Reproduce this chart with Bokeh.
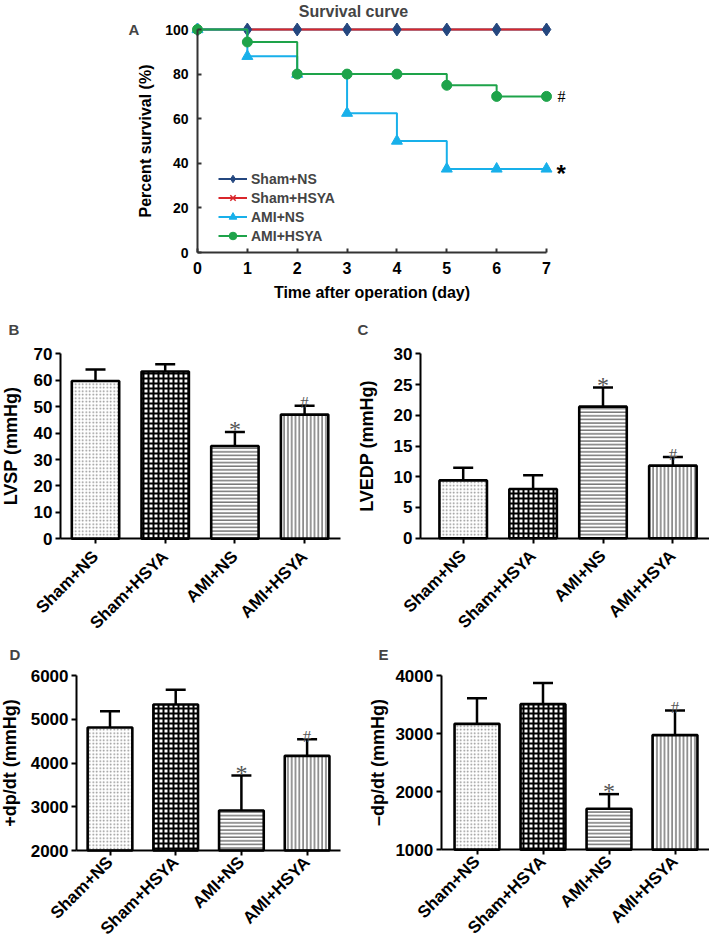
import math
from bokeh.plotting import figure
from bokeh.layouts import column, row
from bokeh.models import (Range1d, FixedTicker, Label, Legend, LegendItem, Whisker,
                          TeeHead, ColumnDataSource, LinearAxis)
from bokeh.core.properties import value
from bokeh.embed import file_html
from bokeh.resources import INLINE

# ---------------- data ----------------
days = [0, 1, 2, 3, 4, 5, 6, 7]
surv_sham_ns = [100, 100, 100, 100, 100, 100, 100, 100]
surv_sham_hsya = [100, 100, 100, 100, 100, 100, 100, 100]
surv_ami_ns = [100, 88, 80, 62.5, 50, 37.5, 37.5, 37.5]
surv_ami_hsya = [100, 94.4, 80, 80, 80, 75, 70, 70]
series_names = ["Sham+NS", "Sham+HSYA", "AMI+NS", "AMI+HSYA"]
surv_yticks = [0, 20, 40, 60, 80, 100]

groups = ["Sham+NS", "Sham+HSYA", "AMI+NS", "AMI+HSYA"]
lvsp_mean = [59.7, 63.3, 35.1, 47.0]
lvsp_sem = [4.4, 2.7, 5.3, 3.3]
lvedp_mean = [9.4, 8.0, 21.4, 11.8]
lvedp_sem = [2.05, 2.25, 3.1, 1.4]
dpdt_pos_mean = [4811, 5337, 2914, 4164]
dpdt_pos_sem = [374, 335, 800, 381]
dpdt_neg_mean = [3168, 3507, 1706, 2974]
dpdt_neg_sem = [442, 362, 252, 424]
sig_marks = ["", "", "*", "#"]
survival_marks = {"AMI+NS": "*", "AMI+HSYA": "#"}

# ---------------- styles ----------------
FONT = "Liberation Sans"
hatch_patterns = ["dot", "cross", "horizontal_line", "vertical_line"]
hatch_scales = [3.5, 5, 3.6, 3.8]
hatch_weights = [1.2, 2, 1, 1]
hatch_colors = ["#8a8a8a", "black", "#333333", "#333333"]
mark_sizes = ["24px", "24px", "24px", "17px"]

C_NAVY = "#24477f"
C_RED = "#d9262b"
C_LBLUE = "#18b0ea"
C_GREEN = "#1ea34a"


def x_span(size, px_a, val_a, px_b, val_b):
    """Range so that value val_a sits at pixel px_a and val_b at px_b (frame = whole figure)."""
    s = (px_b - px_a) / (val_b - val_a)
    return (val_a - px_a / s, val_a + (size - px_a) / s)


def y_span(size, py_a, val_a, py_b, val_b):
    """Same for a vertical axis, pixels measured from the top of the figure."""
    s = (py_a - py_b) / (val_b - val_a)
    return (val_a - (size - py_a) / s, val_a + py_a / s)


def base_fig(w, h, xr, yr):
    p = figure(width=w, height=h, x_range=Range1d(*xr), y_range=Range1d(*yr),
               output_backend="svg", toolbar_location=None,
               x_axis_location=None, y_axis_location=None,
               min_border_left=0, min_border_right=0, min_border_top=0, min_border_bottom=0)
    p.grid.visible = False
    p.outline_line_color = None
    p.background_fill_color = None
    p.border_fill_color = None
    return p


def style_axis(ax):
    ax.axis_line_width = 2
    ax.axis_line_color = "black"
    ax.major_tick_line_width = 2
    ax.major_tick_line_color = "black"
    ax.minor_tick_line_color = None
    ax.major_label_text_font = FONT
    ax.major_label_text_font_style = "bold"
    ax.major_label_text_color = "black"
    ax.axis_label_text_font = FONT
    ax.axis_label_text_font_style = "bold"
    ax.axis_label_text_color = "black"


# ---------------- panel A ----------------
WA, HA = 709, 305
pa = base_fig(WA, HA, x_span(WA, 197, 0, 546, 7), y_span(HA, 252, 0, 29, 100))

ya = LinearAxis(fixed_location=0, bounds=(0, 100), ticker=FixedTicker(ticks=surv_yticks),
                axis_label="Percent survival (%)")
xa = LinearAxis(fixed_location=0, bounds=(days[0], days[-1]), ticker=FixedTicker(ticks=days),
                axis_label="Time after operation (day)")
for ax in (ya, xa):
    style_axis(ax)
    ax.axis_line_color = "#333333"
    ax.major_tick_line_color = "#333333"
    ax.major_tick_in = 4
    ax.major_tick_out = 0
    ax.axis_label_text_font_size = "16px"
    ax.major_label_standoff = 9
xa.major_label_text_font_size = "16px"
ya.major_label_text_font_size = "14px"
xa.axis_label_standoff = 7
ya.axis_label_standoff = 8
pa.add_layout(ya, "left")
pa.add_layout(xa, "below")

l1 = pa.step(days, surv_sham_ns, mode="after", line_color=C_NAVY, line_width=2)
l2 = pa.step(days, surv_sham_hsya, mode="after", line_color=C_RED, line_width=2)
m2 = pa.scatter(days, surv_sham_hsya, marker="x", size=8, line_color=C_RED, line_width=1.5)
m1 = pa.scatter(days, surv_sham_ns, marker="diamond", size=13, fill_color=C_NAVY,
                line_color=C_NAVY)
l3 = pa.step(days, surv_ami_ns, mode="after", line_color=C_LBLUE, line_width=2)
m3 = pa.scatter(days, surv_ami_ns, marker="triangle", size=11, fill_color=C_LBLUE,
                line_color=C_LBLUE)
l4 = pa.step(days, surv_ami_hsya, mode="after", line_color=C_GREEN, line_width=2)
m4 = pa.scatter(days, surv_ami_hsya, marker="circle", size=10, fill_color=C_GREEN,
                line_color=C_GREEN)

legend = Legend(items=[LegendItem(label=series_names[0], renderers=[l1, m1]),
                       LegendItem(label=series_names[1], renderers=[l2, m2]),
                       LegendItem(label=series_names[2], renderers=[l3, m3]),
                       LegendItem(label=series_names[3], renderers=[l4, m4])],
                location=(218, 60), padding=5, spacing=0, glyph_width=29, glyph_height=19,
                label_height=19, label_standoff=4, border_line_color=None,
                background_fill_alpha=0, label_text_font=FONT, label_text_font_size="14px",
                label_text_font_style="bold")
pa.add_layout(legend)

pa.text(x=[7.22], y=[surv_ami_hsya[-1]], text=[survival_marks["AMI+HSYA"]],
        text_font=value("Liberation Serif"), text_font_size="16px", text_baseline="middle",
        text_align="left", text_color="black")
pa.text(x=[7.2], y=[surv_ami_ns[-1]], text=[survival_marks["AMI+NS"]],
        text_font=value(FONT), text_font_size="24px", text_font_style="bold",
        text_baseline="middle", text_align="left", text_color="black", y_offset=5)

pa.add_layout(Label(x=3.13, y=108.1, text="Survival curve", text_align="center",
                    text_baseline="middle", text_font=FONT, text_font_size="16px",
                    text_font_style="bold"))
pa.add_layout(Label(x=-1.384, y=100.2, text="A", text_align="left", text_baseline="middle",
                    text_font=FONT, text_font_size="15px", text_font_style="bold"))


# ---------------- bar panels ----------------
def bar_panel(means, sems, ylabel, yticks, w, h, px0, px_step, py_lo, py_hi,
              x_lo, x_hi, letter, letter_px, ylabel_standoff, xlabel_standoff):
    ystart, yend = yticks[0], yticks[-1]
    xr = x_span(w, px0, 0, px0 + px_step, 1)
    yr = y_span(h, py_lo, ystart, py_hi, yend)
    p = base_fig(w, h, xr, yr)
    sx = (xr[1] - xr[0]) / w
    sy = (yr[1] - yr[0]) / h
    xs = list(range(len(groups)))
    src = ColumnDataSource(dict(
        x=xs, top=means, upper=[m + s for m, s in zip(means, sems)],
        pat=hatch_patterns, hs=hatch_scales, hw=hatch_weights, hc=hatch_colors,
        mark=sig_marks, fs=mark_sizes))
    p.vbar(x="x", top="top", bottom=ystart, width=0.68, source=src, fill_color="white",
           line_color="black", line_width=2.6, hatch_pattern="pat", hatch_scale="hs",
           hatch_weight="hw", hatch_color="hc")
    p.add_layout(Whisker(base="x", upper="upper", lower="top", source=src,
                         dimension="height", line_width=2.5, line_color="black",
                         upper_head=TeeHead(size=20, line_width=2.5, line_color="black"),
                         lower_head=None))
    p.text(x="x", y="upper", text="mark", source=src, text_align="center",
           text_baseline="alphabetic", text_font=value("Liberation Serif"),
           text_font_size="fs", text_color="#555555", y_offset=-3)

    x_axis_at = xr[0] + x_lo * sx
    yax = LinearAxis(fixed_location=x_axis_at, bounds=(ystart, yend),
                     ticker=FixedTicker(ticks=yticks), axis_label=ylabel)
    xax = LinearAxis(fixed_location=ystart, bounds=(x_axis_at, xr[0] + x_hi * sx),
                     ticker=FixedTicker(ticks=xs))
    for ax in (yax, xax):
        style_axis(ax)
        ax.major_tick_in = 0
        ax.major_tick_out = 5
    yax.major_label_text_font_size = "17px"
    yax.major_label_standoff = 3
    yax.axis_label_text_font_size = "18px"
    yax.axis_label_standoff = ylabel_standoff
    xax.major_label_overrides = {i: g for i, g in enumerate(groups)}
    xax.major_label_orientation = math.pi / 4
    xax.major_label_text_font_size = "17px"
    xax.major_label_standoff = xlabel_standoff
    p.add_layout(yax, "left")
    p.add_layout(xax, "below")
    p.add_layout(Label(x=xr[0] + letter_px[0] * sx, y=yr[1] - letter_px[1] * sy, text=letter,
                       text_align="left", text_baseline="middle", text_font=FONT,
                       text_font_size="15px", text_font_style="bold"))
    return p


# pixel geometry (local to each figure): first bar centre, bar spacing,
# axis bottom/top pixels, axis left/right pixels, letter position
pb = bar_panel(lvsp_mean, lvsp_sem, "LVSP (mmHg)", [0, 10, 20, 30, 40, 50, 60, 70],
               350, 335, 95, 69.7, 233.3, 48.3, 60, 340, "B", (8, 23.5), 10, 10)
pc = bar_panel(lvedp_mean, lvedp_sem, "LVEDP (mmHg)", [0, 5, 10, 15, 20, 25, 30],
               359, 335, 112.7, 69.9, 232.7, 48.3, 70, 359, "C", (7, 23.5), 14, 10)
pd = bar_panel(dpdt_pos_mean, dpdt_pos_sem, "+dp/dt (mmHg)", [2000, 3000, 4000, 5000, 6000],
               350, 302, 109.5, 65.7, 210, 35, 76, 340, "D", (9, 14), 8, 4)
pe = bar_panel(dpdt_neg_mean, dpdt_neg_sem, "\u2013dp/dt (mmHg)", [1000, 2000, 3000, 4000],
               359, 302, 126.5, 66, 209.3, 35, 90.7, 359, "E", (28, 14), 5, 4)

layout = column(pa, row(pb, pc, spacing=0), row(pd, pe, spacing=0), spacing=0)
open("out.html", "w").write(file_html(layout, INLINE))
